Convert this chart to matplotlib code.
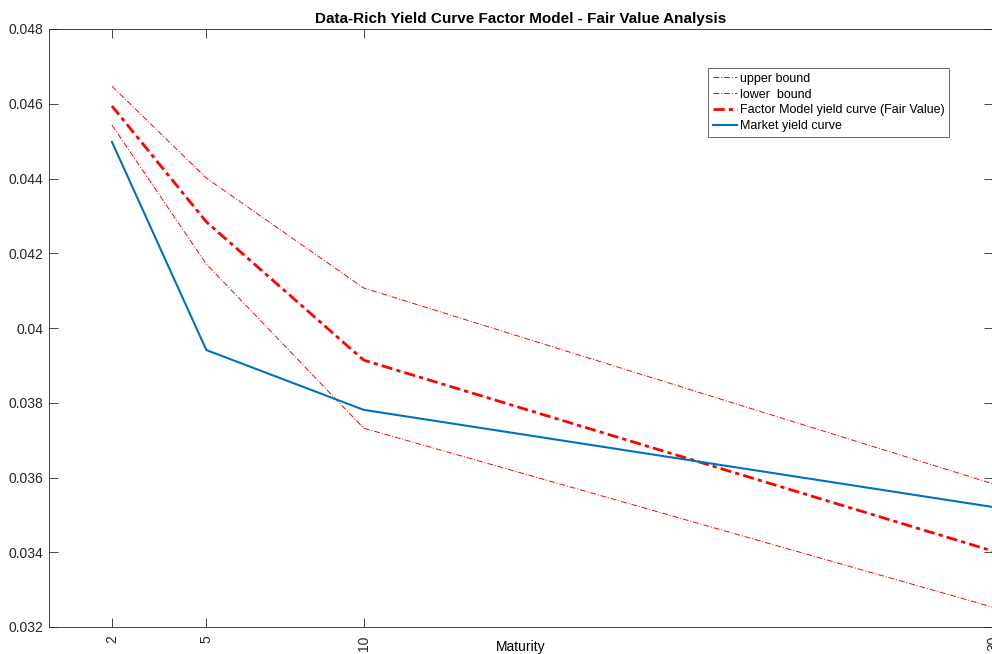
import matplotlib
matplotlib.use("Agg")
import matplotlib.pyplot as plt

maturities = [2, 5, 10, 30]
upper_bound = [0.04647, 0.04401, 0.04107, 0.03583]
lower_bound = [0.04543, 0.04171, 0.03732, 0.03253]
fair_value = [0.04594, 0.04284, 0.03914, 0.03403]
market = [0.04498, 0.03941, 0.03781, 0.03521]
yticks = [0.032, 0.034, 0.036, 0.038, 0.04, 0.042, 0.044, 0.046, 0.048]
ytick_labels = ["0.032", "0.034", "0.036", "0.038", "0.04", "0.042", "0.044", "0.046", "0.048"]

plt.rcParams['font.family'] = ['Liberation Sans', 'DejaVu Sans']

fig = plt.figure(figsize=(9.92, 6.54), dpi=100)
ax = fig.add_axes([49/992, 1-627/654, 944/992, 598/654])

red = '#FF0000'
ax.plot(maturities, upper_bound, color=red, lw=0.7, linestyle=(0, (6, 2, 1, 2)), label='upper bound')
ax.plot(maturities, lower_bound, color=red, lw=0.7, linestyle=(0, (6, 2, 1, 2)), label='lower  bound')
ax.plot(maturities, fair_value, color=red, lw=2.0, linestyle=(0, (4, 1.5, 1.5, 1.5)), label='Factor Model yield curve (Fair Value)')
ax.plot(maturities, market, color='#0072BD', lw=1.5, label='Market yield curve')

ax.set_xlim(0, 30)
ax.set_ylim(0.032, 0.048)
ax.set_xticks(maturities)
ax.set_xticklabels([str(m) for m in maturities], rotation=90)
ax.set_yticks(yticks)
ax.set_yticklabels(ytick_labels)

dark = '#262626'
for s in ax.spines.values():
    s.set_color(dark)
    s.set_linewidth(0.6)
ax.tick_params(direction='in', length=6.8, width=0.6, colors=dark, labelsize=10,
               top=True, right=True, pad=4)
ax.tick_params(axis='x', pad=6)

ax.set_title('Data-Rich Yield Curve Factor Model - Fair Value Analysis',
             fontsize=11, fontweight='bold', pad=4)
ax.set_xlabel('Maturity', fontsize=10)
ax.xaxis.set_label_coords(0.5, (627 - 640) / 598)

leg = ax.legend(loc='upper left', bbox_to_anchor=((708-49)/944, (627-68)/598),
                fontsize=9, frameon=True, fancybox=False, edgecolor=dark,
                borderpad=0.38, labelspacing=0.3, handlelength=1.9, handletextpad=0.25,
                borderaxespad=0)
leg.get_frame().set_linewidth(0.6)

fig.savefig('out.png', dpi=100)
